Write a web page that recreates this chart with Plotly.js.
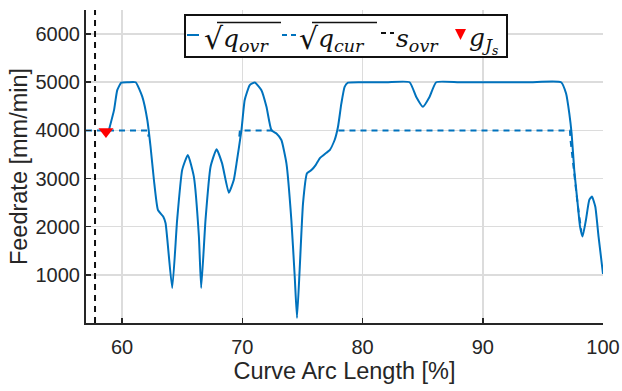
<!DOCTYPE html>
<html>
<head>
<meta charset="utf-8">
<script src="https://cdn.plot.ly/plotly-3.0.1.min.js"></script>
<style>html,body{margin:0;padding:0;background:#fff;}#chart{width:622px;height:391px;}</style>
</head>
<body>
<div id="chart"></div>
<script>
// q_ovr (solid) : arc length [%] and feedrate [mm/min]
const qOvrX = [58.9, 59.33, 59.6, 59.93, 60.5, 61.13, 61.68, 62.1, 62.37, 62.65, 62.98, 63.42, 63.62, 64.17, 64.58, 65.0, 65.47, 65.97, 66.39, 66.58, 66.94, 67.36, 67.86, 68.32, 68.88, 69.29, 69.52, 69.93, 70.2, 70.62, 71.04, 71.59, 72.01, 72.42, 72.84, 73.25, 73.67, 74.08, 74.36, 74.55, 74.77, 75.05, 75.38, 75.75, 76.1, 76.44, 76.99, 77.27, 77.68, 77.96, 78.24, 78.51, 78.79, 80, 82, 83.91, 84.47, 85.02, 85.57, 86.13, 88, 90, 92, 94, 96.51, 96.93, 97.2, 97.39, 97.61, 97.89, 98.09, 98.3, 98.58, 98.86, 99.08, 99.36, 99.63, 100];
const qOvrY = [4000, 4420, 4835, 4990, 5000, 5000, 4700, 4215, 3660, 2970, 2350, 2210, 2070, 725, 2140, 3180, 3490, 3040, 1795, 725, 2140, 3245, 3610, 3315, 2705, 2970, 3315, 4005, 4630, 4940, 4995, 4835, 4490, 4005, 3935, 3800, 3315, 2140, 965, 105, 1105, 2485, 3110, 3175, 3280, 3420, 3535, 3590, 3800, 4075, 4560, 4905, 4990, 5000, 5000, 5000, 4695, 4490, 4695, 5000, 5000, 5000, 5000, 5000, 5000, 4765, 4350, 3935, 3175, 2485, 2000, 1795, 2140, 2555, 2625, 2415, 1795, 1020];
// q_cur (dashed) : shown where it departs from q_ovr
const qCurX = [57.0, 62.15, 62.2, null, 69.75, 69.8, 72.55, 72.65, null, 78.0, 97.25, 97.3, 97.6, 97.9, 98.2];
const qCurY = [4000, 4000, 3870, null, 3870, 4000, 4000, 3930, null, 4000, 4000, 3800, 3100, 2450, 1900];
// s_ovr (vertical dashed line) and g_Js (marker)
const sOvrX = [57.75, 57.75];
const sOvrY = [0, 6500];
const gJsX = [58.66];
const gJsY = [3975];
// axes
const xTicks = [60, 70, 80, 90, 100];
const yTicks = [1000, 2000, 3000, 4000, 5000, 6000];
// legend labels
const legendLabels = ['<i>q</i><sub><i>ovr</i></sub>', '<i>q</i><sub><i>cur</i></sub>', '<i>s</i><sub><i>ovr</i></sub>', '<i>g</i><sub><i>J<sub>s</sub></i></sub>'];

const blue = '#0072BD';
const traces = [
  {x: qOvrX, y: qOvrY, type: 'scatter', mode: 'lines', line: {color: blue, width: 2, shape: 'spline', smoothing: 0.45}, name: 'q_ovr'},
  {x: qCurX, y: qCurY, type: 'scatter', mode: 'lines', line: {color: blue, width: 2, dash: '6px,5px'}, connectgaps: false, name: 'q_cur'},
  {x: sOvrX, y: sOvrY, type: 'scatter', mode: 'lines', line: {color: '#111', width: 2, dash: '6px,5px'}, name: 's_ovr'},
  {x: gJsX, y: gJsY, type: 'scatter', mode: 'markers', marker: {symbol: 'triangle-down', size: 13, color: '#f00'}, name: 'g_Js'}
];

// plot-area geometry (pixels) for placing the legend box
const M = {l: 86, r: 19, t: 10, b: 68};
const PW = 622 - M.l - M.r, PH = 391 - M.t - M.b;
const px = v => (v - M.l) / PW;
const py = v => (391 - M.b - v) / PH;

const legFont = {family: 'DejaVu Serif, Liberation Serif, serif', size: 25, color: '#111'};
const radFont = {family: 'DejaVu Serif, serif', size: 30, color: '#111'};
const shapes = [
  {type: 'rect', xref: 'paper', yref: 'paper', x0: px(185), x1: px(507), y0: py(15), y1: py(57), line: {color: '#111', width: 2}, fillcolor: '#fff', layer: 'above'},
  {type: 'line', xref: 'paper', yref: 'paper', x0: px(187), x1: px(199), y0: py(35), y1: py(35), line: {color: blue, width: 2}, layer: 'above'},
  {type: 'line', xref: 'paper', yref: 'paper', x0: px(282), x1: px(296), y0: py(35), y1: py(35), line: {color: blue, width: 2, dash: '5px,4px'}, layer: 'above'},
  {type: 'line', xref: 'paper', yref: 'paper', x0: px(381), x1: px(394), y0: py(33), y1: py(33), line: {color: '#111', width: 2, dash: '5px,4px'}, layer: 'above'},
  {type: 'path', xref: 'paper', yref: 'paper', path: `M${px(455)},${py(29)} L${px(466)},${py(29)} L${px(460.5)},${py(40)} Z`, line: {width: 0}, fillcolor: '#f00', layer: 'above'},
  // radical overbars
  {type: 'line', xref: 'paper', yref: 'paper', x0: px(217), x1: px(281), y0: py(22.5), y1: py(22.5), line: {color: '#111', width: 1.5}, layer: 'above'},
  {type: 'line', xref: 'paper', yref: 'paper', x0: px(312), x1: px(377), y0: py(22.5), y1: py(22.5), line: {color: '#111', width: 1.5}, layer: 'above'}
];
const annotations = [
  {xref: 'paper', yref: 'paper', x: px(202), y: py(38), xanchor: 'left', yanchor: 'middle', text: '√', showarrow: false, font: radFont},
  {xref: 'paper', yref: 'paper', x: px(221), y: py(40), xanchor: 'left', yanchor: 'middle', text: legendLabels[0], showarrow: false, font: legFont},
  {xref: 'paper', yref: 'paper', x: px(297), y: py(38), xanchor: 'left', yanchor: 'middle', text: '√', showarrow: false, font: radFont},
  {xref: 'paper', yref: 'paper', x: px(316), y: py(40), xanchor: 'left', yanchor: 'middle', text: legendLabels[1], showarrow: false, font: legFont},
  {xref: 'paper', yref: 'paper', x: px(394), y: py(40), xanchor: 'left', yanchor: 'middle', text: legendLabels[2], showarrow: false, font: legFont},
  {xref: 'paper', yref: 'paper', x: px(467), y: py(40), xanchor: 'left', yanchor: 'middle', text: legendLabels[3], showarrow: false, font: legFont}
];

const axisFont = {family: 'Liberation Sans, Arial, sans-serif', size: 20, color: '#262626'};
const titleFont = {family: 'Liberation Sans, Arial, sans-serif', size: 23.5, color: '#262626'};
const layout = {
  width: 622, height: 391,
  margin: M,
  paper_bgcolor: '#fff', plot_bgcolor: '#fff',
  showlegend: false,
  shapes: shapes,
  annotations: annotations,
  xaxis: {range: [57, 100], tickvals: xTicks, ticks: 'inside', ticklen: 5, tickwidth: 1.5, tickcolor: '#262626',
    showline: true, linecolor: '#262626', linewidth: 2, mirror: false,
    showgrid: true, gridcolor: '#dcdcdc', gridwidth: 1.5, zeroline: false,
    tickfont: axisFont, ticklabelstandoff: 5,
    title: {text: 'Curve Arc Length [%]', font: titleFont, standoff: 6}},
  yaxis: {range: [0, 6500], tickvals: yTicks, ticks: 'inside', ticklen: 5, tickwidth: 1.5, tickcolor: '#262626',
    showline: true, linecolor: '#262626', linewidth: 2, mirror: false,
    showgrid: true, gridcolor: '#dcdcdc', gridwidth: 1.5, zeroline: false,
    tickfont: axisFont,
    title: {text: 'Feedrate [mm/min]', font: titleFont, standoff: 1}}
};
Plotly.newPlot('chart', traces, layout, {displayModeBar: false, staticPlot: true});
</script>
</body>
</html>
